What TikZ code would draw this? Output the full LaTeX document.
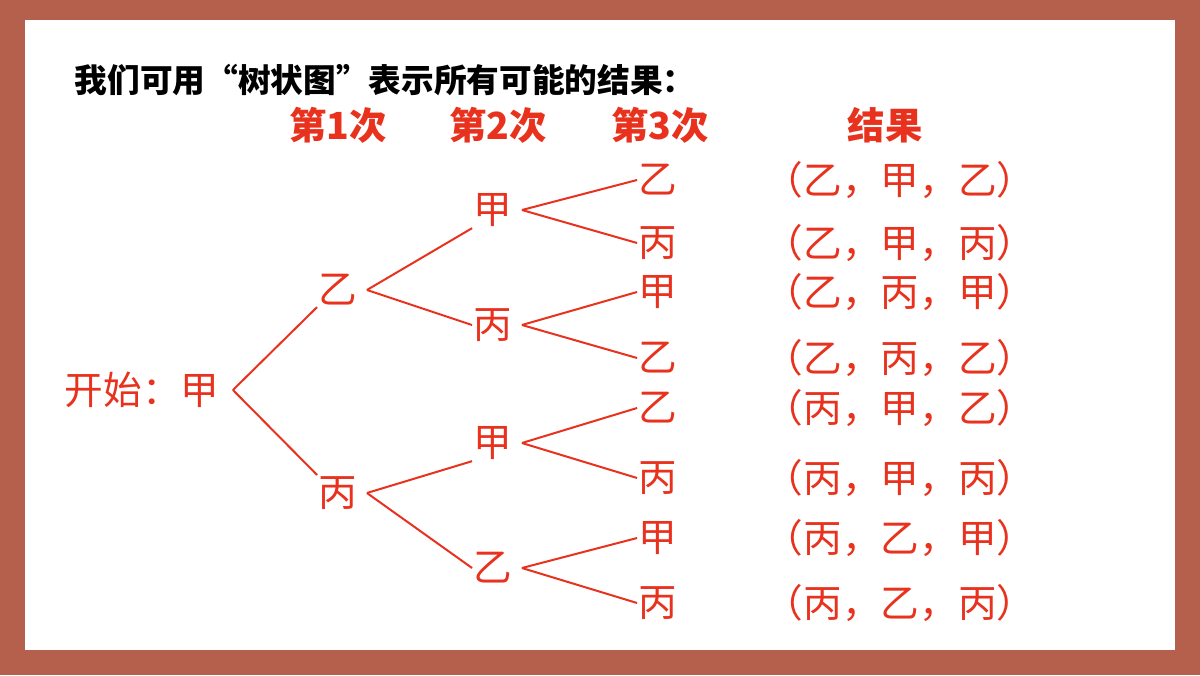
\documentclass[tikz,border=0pt]{standalone}
\usepackage{fontspec}
\setmainfont{Noto Sans CJK SC}
\usetikzlibrary{positioning}
\definecolor{frame}{HTML}{B5604D}
\definecolor{tred}{HTML}{E8321E}
\tikzset{
  lbl/.style={text=tred, font=\fontsize{29}{31}\selectfont, inner sep=1pt},
  head/.style={text=tred, font=\fontsize{28}{30}\selectfont\bfseries},
  br/.style={draw=tred, line width=1.5pt}
}
\begin{document}
\begin{tikzpicture}[x=0.75pt,y=-0.75pt]
    % background
    \fill[frame] (0,0) rectangle (1200,675);
    \fill[white] (25,20) rectangle (1175,650);
    \node[anchor=west, font=\fontsize{24.5}{26}\selectfont\bfseries] (title) at (70,80) {我们可用“树状图”表示所有可能的结果：};

    %headers
    \node[head] (h1) at (338,125) {第1次};
    \node[head] (h2) at (498,125) {第2次};
    \node[head] (h3) at (660,125) {第3次};
    \node[head] (h4) at (885,125) {结果};

    %tree nodes
    \begin{scope}[every node/.style={lbl}]
      \node (start) at (142,390) {开始：甲};
      \node (a) at (338,290) {乙};
      \node (b) at (338,493) {丙};
      \node (aa) at (493,210) {甲};
      \node (ab) at (493,325) {丙};
      \node (ba) at (493,443) {甲};
      \node (bb) at (493,568) {乙};
      \node (aaa) at (658,180) {乙};
      \node (aab) at (658,243) {丙};
      \node (aba) at (658,292) {甲};
      \node (abb) at (658,358) {乙};
      \node (baa) at (658,408) {乙};
      \node (bab) at (658,478) {丙};
      \node (bba) at (658,538) {甲};
      \node (bbb) at (658,603) {丙};
      \node (r1) at (900,180) {（乙，甲，乙）};
      \node (r2) at (900,243) {（乙，甲，丙）};
      \node (r3) at (900,292) {（乙，丙，甲）};
      \node (r4) at (900,358) {（乙，丙，乙）};
      \node (r5) at (900,408) {（丙，甲，乙）};
      \node (r6) at (900,478) {（丙，甲，丙）};
      \node (r7) at (900,538) {（丙，乙，甲）};
      \node (r8) at (900,603) {（丙，乙，丙）};
    \end{scope}

    %branches
    \begin{scope}[every path/.style={br}]
      \draw (start.east) ++(12,0) coordinate (s0) -- (a.south west);
      \draw (s0) -- (b.north west);
      \draw (a.east) ++(8,0) coordinate (a0) -- (aa.south west);
      \draw (a0) -- (ab.west);
      \draw (b.east) ++(8,0) coordinate (b0) -- (ba.south west);
      \draw (b0) -- (bb.west);
      \draw (aa.east) ++(8,0) coordinate (aa0) -- (aaa.west);
      \draw (aa0) -- (aab.west);
      \draw (ab.east) ++(8,0) coordinate (ab0) -- (aba.west);
      \draw (ab0) -- (abb.west);
      \draw (ba.east) ++(8,0) coordinate (ba0) -- (baa.west);
      \draw (ba0) -- (bab.west);
      \draw (bb.east) ++(8,0) coordinate (bb0) -- (bba.west);
      \draw (bb0) -- (bbb.west);
    \end{scope}
\end{tikzpicture}
\end{document}
